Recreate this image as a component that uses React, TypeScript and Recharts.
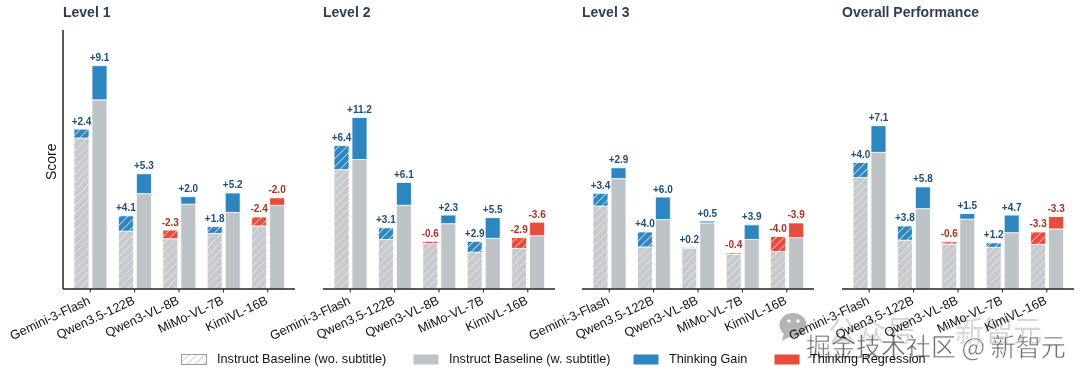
import { BarChart, Bar, Cell, LabelList, XAxis, YAxis } from "recharts";

const MODELS = ["Gemini-3-Flash", "Qwen3.5-122B", "Qwen3-VL-8B", "MiMo-VL-7B", "KimiVL-16B"];

const LEVEL1_WO = [40.2, 15.4, 13.4, 14.8, 16.8];
const LEVEL1_WO_DELTA = [2.4, 4.1, -2.3, 1.8, -2.4];
const LEVEL1_W = [50.4, 25.4, 22.6, 20.4, 22.3];
const LEVEL1_W_DELTA = [9.1, 5.3, 2.0, 5.2, -2.0];

const LEVEL2_WO = [31.8, 13.2, 12.1, 9.8, 10.8];
const LEVEL2_WO_DELTA = [6.4, 3.1, -0.6, 2.9, -2.9];
const LEVEL2_W = [34.5, 22.3, 17.4, 13.5, 14.2];
const LEVEL2_W_DELTA = [11.2, 6.1, 2.3, 5.5, -3.6];

const LEVEL3_WO = [22.1, 11.2, 10.9, 9.2, 10.0];
const LEVEL3_WO_DELTA = [3.4, 4.0, 0.2, -0.4, -4.0];
const LEVEL3_W = [29.4, 18.5, 17.6, 13.2, 13.7];
const LEVEL3_W_DELTA = [2.9, 6.0, 0.5, 3.9, -3.9];

const OVERALL_WO = [29.7, 13.0, 12.0, 11.1, 11.9];
const OVERALL_WO_DELTA = [4.0, 3.8, -0.6, 1.2, -3.3];
const OVERALL_W = [36.4, 21.4, 18.6, 15.0, 16.0];
const OVERALL_W_DELTA = [7.1, 5.8, 1.5, 4.7, -3.3];

const GRAY = "#bdc3c7";
const BLUE = "#2e86c1";
const RED = "#e74c3c";
const DARK = "#2c3e50";
const FONT = "'Liberation Sans', Arial, sans-serif";
const CJK = "'Noto Sans CJK SC', sans-serif";

const fmt = (v: number) => (v >= 0 ? "+" : "") + v.toFixed(1);

function buildRows(wo: number[], woDelta: number[], w: number[], wDelta: number[]) {
  return MODELS.map((name, i) => ({
    name,
    wo: wo[i],
    woDelta: Math.abs(woDelta[i]),
    woRaw: woDelta[i],
    w: w[i],
    wDelta: Math.abs(wDelta[i]),
    wRaw: wDelta[i],
  }));
}

function RotatedTick({ x, y, payload }: any) {
  return (
    <text
      x={x + 1}
      y={y + 9}
      textAnchor="end"
      fontSize={12.7}
      fontFamily={FONT}
      fill="#111"
      transform={`rotate(-25 ${x + 1} ${y + 9})`}
    >
      {payload.value}
    </text>
  );
}

function deltaLabel(raws: number[]) {
  return ({ x, y, width, index }: any) => (
    <text
      x={x + width / 2}
      y={y - 4.5}
      textAnchor="middle"
      fontSize={10}
      fontWeight="bold"
      fontFamily={FONT}
      fill={raws[index] >= 0 ? "#1f4e79" : "#a93226"}
    >
      {fmt(raws[index])}
    </text>
  );
}

function Hatch({ id, bg, line, width = 1.4 }: { id: string; bg: string; line: string; width?: number }) {
  return (
    <pattern id={id} patternUnits="userSpaceOnUse" width="5.6" height="5.6" patternTransform="rotate(45)">
      <rect width="5.6" height="5.6" fill={bg} />
      <line x1="0" y1="0" x2="0" y2="5.6" stroke={line} strokeWidth={width} />
    </pattern>
  );
}

interface PanelProps {
  title: string;
  left: number;
  showY?: boolean;
  wo: number[];
  woDelta: number[];
  w: number[];
  wDelta: number[];
}

function Panel({ title, left, showY, wo, woDelta, w, wDelta }: PanelProps) {
  const rows = buildRows(wo, woDelta, w, wDelta);
  return (
    <div style={{ position: "absolute", left: left - 60, top: 0, width: 300, height: 375 }}>
      <div
        style={{
          position: "absolute",
          left: 60,
          top: 3,
          fontFamily: FONT,
          fontSize: 14,
          fontWeight: "bold",
          color: DARK,
          lineHeight: "18px",
        }}
      >
        {title}
      </div>
      <BarChart
        width={300}
        height={375}
        data={rows}
        margin={{ top: 30, right: 8, bottom: 0, left: 0 }}
        barSize={15}
        barGap={3}
        style={{ position: "absolute", left: 0, top: 0 }}
      >
        <defs>
          <Hatch id="hatchGray" bg="#c6cacc" line="#eceeef" width={1.2} />
          <Hatch id="hatchBlue" bg={BLUE} line="#e8f2f8" />
          <Hatch id="hatchRed" bg={RED} line="#fbe5e2" />
        </defs>
        <XAxis
          dataKey="name"
          interval={0}
          height={86}
          padding={{ left: 5, right: 5 }}
          axisLine={{ stroke: "#222", strokeWidth: 1.5 }}
          tickLine={{ stroke: "#222", strokeWidth: 1 }}
          tickSize={3.5}
          tick={<RotatedTick />}
        />
        <YAxis
          width={60}
          domain={[0, 69]}
          allowDataOverflow
          tick={false}
          tickLine={false}
          axisLine={showY ? { stroke: "#222", strokeWidth: 1.5 } : false}
          label={
            showY
              ? {
                  value: "Score",
                  angle: -90,
                  position: "insideRight",
                  dx: -7,
                  dy: -16,
                  fontSize: 14,
                  fontFamily: FONT,
                  fill: "#111",
                }
              : undefined
          }
        />
        <Bar dataKey="wo" stackId="a" fill="url(#hatchGray)" stroke="#fff" strokeWidth={0.8} isAnimationActive={false} />
        <Bar dataKey="woDelta" stackId="a" stroke="#fff" strokeWidth={0.8} isAnimationActive={false}>
          {rows.map((r) => (
            <Cell key={r.name} fill={r.woRaw >= 0 ? "url(#hatchBlue)" : "url(#hatchRed)"} />
          ))}
          <LabelList dataKey="woRaw" content={deltaLabel(woDelta)} />
        </Bar>
        <Bar dataKey="w" stackId="b" fill={GRAY} stroke="#fff" strokeWidth={0.8} isAnimationActive={false} />
        <Bar dataKey="wDelta" stackId="b" stroke="#fff" strokeWidth={0.8} isAnimationActive={false}>
          {rows.map((r) => (
            <Cell key={r.name} fill={r.wRaw >= 0 ? BLUE : RED} />
          ))}
          <LabelList dataKey="wRaw" content={deltaLabel(wDelta)} />
        </Bar>
      </BarChart>
    </div>
  );
}

function LegendItem({ left, label, fill }: { left: number; label: string; fill: string }) {
  return (
    <div style={{ position: "absolute", left, top: 351, height: 16, display: "flex", alignItems: "center" }}>
      <svg width={26} height={11} style={{ marginRight: 10 }}>
        <defs>
          <Hatch id="legendHatch" bg="#fff" line="#b5b9bc" />
        </defs>
        <rect
          x={0.5}
          y={0.5}
          width={25}
          height={10}
          fill={fill}
          stroke={fill === "url(#legendHatch)" ? "#9a9a9a" : "none"}
        />
      </svg>
      <span style={{ fontFamily: FONT, fontSize: 12.7, color: "#111", whiteSpace: "nowrap" }}>{label}</span>
    </div>
  );
}

function Watermark() {
  return (
    <svg
      width={1080}
      height={375}
      style={{ position: "absolute", left: 0, top: 0, pointerEvents: "none", mixBlendMode: "multiply" }}
    >
      <ellipse cx={793} cy={325} rx={13.5} ry={12} fill="#b4b4b4" />
      <path d="M784 333 L782 341 L791 336 Z" fill="#b4b4b4" />
      <circle cx={789} cy={321} r={1.8} fill="#fff" />
      <circle cx={798} cy={321} r={1.8} fill="#fff" />
      <text y={342} fontSize={29} fontFamily={CJK} fill="#bdbdbd" opacity={0.6}>
        <tspan x={828}>公众号</tspan>
        <tspan x={955}>新智元</tspan>
      </text>
      <text x={806} y={356} fontSize={25} fontFamily={CJK} fill="#707070" stroke="#fff" strokeWidth={0.4}>
        掘金技术社区 @ 新智元
      </text>
    </svg>
  );
}

export default function App() {
  return (
    <div
      style={{
        position: "absolute",
        left: 0,
        top: 0,
        width: 1080,
        height: 375,
        overflow: "hidden",
        background: "#fff",
      }}
    >
      <Panel title="Level 1" left={63} showY wo={LEVEL1_WO} woDelta={LEVEL1_WO_DELTA} w={LEVEL1_W} wDelta={LEVEL1_W_DELTA} />
      <Panel title="Level 2" left={323} wo={LEVEL2_WO} woDelta={LEVEL2_WO_DELTA} w={LEVEL2_W} wDelta={LEVEL2_W_DELTA} />
      <Panel title="Level 3" left={582} wo={LEVEL3_WO} woDelta={LEVEL3_WO_DELTA} w={LEVEL3_W} wDelta={LEVEL3_W_DELTA} />
      <Panel title="Overall Performance" left={842} wo={OVERALL_WO} woDelta={OVERALL_WO_DELTA} w={OVERALL_W} wDelta={OVERALL_W_DELTA} />
      <LegendItem left={181} label="Instruct Baseline (wo. subtitle)" fill="url(#legendHatch)" />
      <LegendItem left={413} label="Instruct Baseline (w. subtitle)" fill={GRAY} />
      <LegendItem left={633} label="Thinking Gain" fill={BLUE} />
      <LegendItem left={774} label="Thinking Regression" fill={RED} />
      <Watermark />
    </div>
  );
}
